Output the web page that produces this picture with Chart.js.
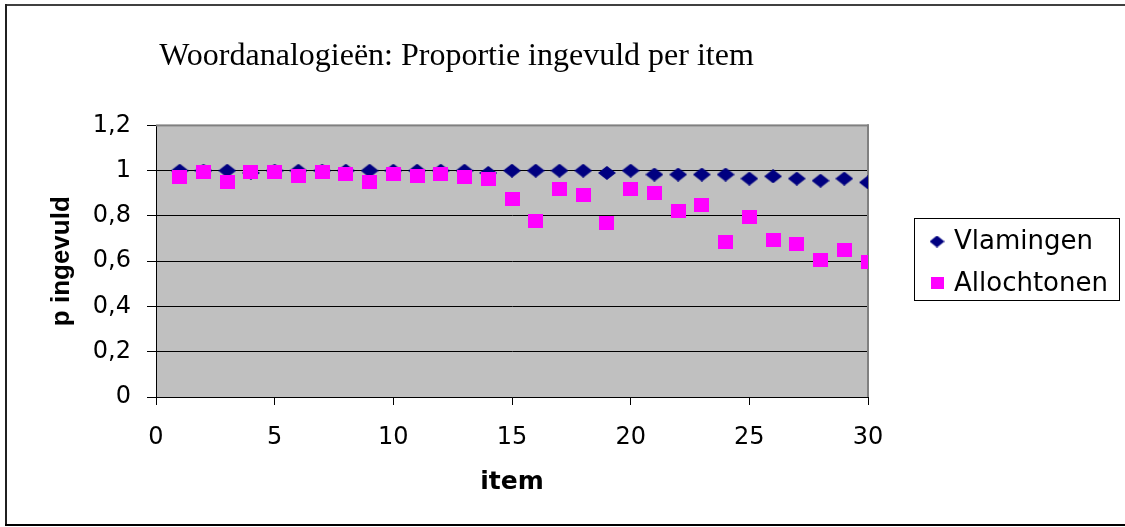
<!DOCTYPE html>

<html>
  <head>
    <meta charset="utf-8">
    <title>Woordanalogieën</title>
    <script src="https://cdn.jsdelivr.net/npm/chart.js"></script>

    <style>
      body {
        margin: 0;
        background: #fff;
      }
      .chart-container {
        width: 1125px;
        height: 527px;
      }
    </style>
  </head>

  <body>
    <div class="chart-container">
      <canvas id="proportie-chart"></canvas>
    </div>

    <script>
      // item numbers and proportion filled in
      const items = [1, 2, 3, 4, 5, 6, 7, 8, 9, 10, 11, 12, 13, 14, 15,
                     16, 17, 18, 19, 20, 21, 22, 23, 24, 25, 26, 27, 28, 29, 30];
      const vlamingen = [1, 1, 1, 0.99, 1, 1, 1, 1, 1, 1, 1, 1, 1, 0.99, 1,
                         1, 1, 1, 0.99, 1, 0.983, 0.983, 0.983, 0.983, 0.965, 0.975, 0.965, 0.956, 0.965, 0.948];
      const allochtonen = [0.97, 0.995, 0.952, 0.995, 0.995, 0.978, 0.995, 0.987, 0.952, 0.987, 0.978, 0.987, 0.97, 0.961, 0.873,
                           0.779, 0.917, 0.891, 0.77, 0.917, 0.9, 0.823, 0.847, 0.683, 0.796, 0.692, 0.674, 0.604, 0.648, 0.596];
      const seriesNames = ['Vlamingen', 'Allochtonen'];
      const seriesColors = ['#000080', '#FF00FF'];

      // small canvases used as point styles (the original markers are a bit wider than tall)
      function makeMarker(w, h, color, shape) {
        const c = document.createElement('canvas');
        c.width = w;
        c.height = h;
        const g = c.getContext('2d');
        g.fillStyle = color;
        g.beginPath();
        if (shape === 'diamond') {
          g.moveTo(w / 2, 0);
          g.lineTo(w, h / 2);
          g.lineTo(w / 2, h);
          g.lineTo(0, h / 2);
          g.closePath();
        } else {
          g.rect(0, 0, w, h);
        }
        g.fill();
        return c;
      }

      const diamond = makeMarker(18, 14, seriesColors[0], 'diamond');
      const square = makeMarker(15, 14, seriesColors[1], 'square');
      const legendMarkers = [
        makeMarker(15, 12, seriesColors[0], 'diamond'),
        makeMarker(13, 12, seriesColors[1], 'square')
      ];

      function toPoints(values) {
        return items.map((x, i) => ({ x: x, y: values[i] }));
      }

      // white page, grey plot area, plot frame, outer border and boxed legend
      const framePlugin = {
        id: 'frame',
        beforeDraw(chart) {
          const ctx = chart.ctx;
          const a = chart.chartArea;
          ctx.save();
          ctx.fillStyle = '#ffffff';
          ctx.fillRect(0, 0, chart.width, chart.height);
          ctx.fillStyle = '#C0C0C0';
          ctx.fillRect(a.left, a.top, a.right - a.left, a.bottom - a.top);
          ctx.restore();
        },
        beforeDatasetsDraw(chart) {
          const ctx = chart.ctx;
          const a = chart.chartArea;
          ctx.save();
          ctx.fillStyle = '#808080';
          ctx.fillRect(a.left, a.top - 1, a.right - a.left + 1, 2);
          ctx.fillRect(a.right - 1, a.top - 1, 2, a.bottom - a.top + 1);
          ctx.restore();
        },
        afterDraw(chart) {
          const ctx = chart.ctx;
          ctx.save();
          // outer border
          ctx.fillStyle = '#404040';
          ctx.fillRect(5, 4, 1120, 2);
          ctx.fillStyle = '#202020';
          ctx.fillRect(5, 4, 2, 522);
          ctx.fillStyle = '#000';
          ctx.fillRect(5, 524, 1120, 2);

          // legend
          ctx.strokeStyle = '#000';
          ctx.lineWidth = 1;
          ctx.strokeRect(914.5, 218.5, 205, 82);
          ctx.font = '26px "DejaVu Sans"';
          ctx.fillStyle = '#000';
          ctx.textBaseline = 'middle';
          const rows = [241.5, 283];
          chart.data.datasets.forEach((ds, i) => {
            const m = legendMarkers[i];
            ctx.drawImage(m, 937 - m.width / 2, rows[i] - m.height / 2);
            ctx.fillText(ds.label, 954, rows[i] + 1);
          });
          ctx.restore();
        }
      };

      Chart.defaults.color = '#000';

      const ctx = document.getElementById('proportie-chart').getContext('2d');
      const myChart = new Chart(ctx, {
        type: 'scatter',
        data: {
          datasets: [
            {
              label: seriesNames[0],
              data: toPoints(vlamingen),
              pointStyle: diamond,
              pointRadius: 8,
              backgroundColor: seriesColors[0],
              borderColor: seriesColors[0],
              order: 2
            },
            {
              label: seriesNames[1],
              data: toPoints(allochtonen),
              pointStyle: square,
              pointRadius: 8,
              backgroundColor: seriesColors[1],
              borderColor: seriesColors[1],
              order: 1
            }
          ]
        },
        options: {
          responsive: true,
          maintainAspectRatio: false,
          animation: false,
          events: [],
          layout: {
            padding: { left: 45, right: 257, top: 0, bottom: 0 }
          },
          plugins: {
            legend: { display: false },
            tooltip: { enabled: false },
            title: {
              display: true,
              text: 'Woordanalogieën: Proportie ingevuld per item',
              color: '#000',
              font: { family: '"Liberation Serif"', size: 32, weight: 'normal' },
              padding: { top: 37, bottom: 50 }
            }
          },
          scales: {
            x: {
              type: 'linear',
              position: 'bottom',
              min: 0,
              max: 30,
              ticks: {
                stepSize: 5,
                maxRotation: 0,
                padding: 18,
                font: { family: '"DejaVu Sans"', size: 24 }
              },
              grid: {
                drawOnChartArea: false,
                drawTicks: true,
                tickLength: 8,
                tickColor: '#000'
              },
              border: { color: '#000', width: 1 },
              title: {
                display: true,
                text: 'item',
                font: { family: '"DejaVu Sans"', size: 25, weight: 'bold' },
                padding: { top: 0, bottom: 30 }
              },
              afterFit(scale) {
                scale.height = 130;
              }
            },
            y: {
              min: 0,
              max: 1.2,
              ticks: {
                stepSize: 0.2,
                padding: 16,
                font: { family: '"DejaVu Sans"', size: 24 },
                callback: (v) => String(Math.round(v * 10) / 10).replace('.', ',')
              },
              grid: {
                color: (c) => (c.tick && Math.abs(c.tick.value - 1.2) < 1e-6) ? 'rgba(0,0,0,0)' : '#000',
                lineWidth: 1,
                tickLength: 9,
                tickColor: '#000'
              },
              border: { color: '#000', width: 1 },
              title: {
                display: true,
                text: 'p ingevuld',
                font: { family: '"Liberation Sans"', size: 26, weight: 'bold' },
                padding: { top: 1, bottom: 0 }
              },
              afterFit(scale) {
                scale.width = 111;
              }
            }
          }
        },
        plugins: [framePlugin]
      });
    </script>
  </body>
</html>
